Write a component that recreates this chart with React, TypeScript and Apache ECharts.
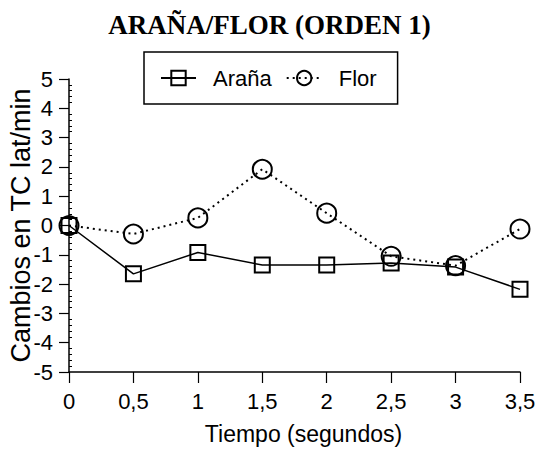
import React, { useEffect, useRef } from "react";
import * as echarts from "echarts";

const times = [0, 0.5, 1, 1.5, 2, 2.5, 3, 3.5];
const arana = [0, -1.65, -0.92, -1.35, -1.35, -1.28, -1.42, -2.18];
const flor = [0, -0.29, 0.26, 1.92, 0.42, -1.05, -1.37, -0.12];
const seriesNames = ["Araña", "Flor"];
const titleText = "ARAÑA/FLOR (ORDEN 1)";
const xName = "Tiempo (segundos)";
const yName = "Cambios en TC lat/min";

const SANS = "'Liberation Sans', Arial, sans-serif";

export default function App() {
  const ref = useRef<HTMLDivElement>(null);
  useEffect(() => {
    if (!ref.current) return;
    const chart = echarts.init(ref.current, null, { renderer: "svg" });
    const yCommon = { type: "value", min: -5, max: 5, interval: 1 };
    chart.setOption({
      animation: false,
      backgroundColor: "#ffffff",
      title: {
        text: titleText,
        left: "center",
        top: 6,
        textStyle: {
          fontFamily: "'Liberation Serif', 'Times New Roman', serif",
          fontWeight: "bold",
          fontSize: 27,
          color: "#000",
        },
      },
      legend: {
        left: 144,
        top: 52,
        padding: [15, 21, 15, 16],
        borderColor: "#000",
        borderWidth: 1.5,
        itemWidth: 35,
        itemHeight: 18,
        itemGap: 14,
        textStyle: { fontFamily: SANS, fontSize: 22, color: "#000", padding: [0, 0, 0, 12] },
        data: seriesNames,
      },
      grid: { left: 69, right: 19, top: 79, bottom: 86, containLabel: false, outerBoundsMode: "none" },
      xAxis: {
        type: "value",
        min: 0,
        max: 3.5,
        interval: 0.5,
        name: xName,
        nameLocation: "middle",
        nameGap: 50,
        nameMoveOverlap: false,
        nameTextStyle: { fontFamily: SANS, fontSize: 23, color: "#000", padding: [0, 0, 0, 18] },
        axisLine: { onZero: false, lineStyle: { color: "#000", width: 1.5 } },
        axisTick: { length: 11, lineStyle: { color: "#000", width: 1.2 } },
        axisLabel: {
          fontFamily: SANS,
          fontSize: 22,
          color: "#000",
          margin: 18,
          formatter: (v: number) => String(v).replace(".", ","),
        },
        splitLine: { show: false },
      },
      yAxis: [
        {
          ...yCommon,
          name: yName,
          nameLocation: "middle",
          nameGap: 35,
          nameMoveOverlap: false,
          nameTextStyle: { fontFamily: SANS, fontSize: 27, color: "#000" },
          axisLine: { show: true, onZero: false, lineStyle: { color: "#000", width: 1.5 } },
          axisTick: { show: true, length: 10, lineStyle: { color: "#000", width: 1.2 } },
          axisLabel: { fontFamily: SANS, fontSize: 22, color: "#000", margin: 16 },
          splitLine: { show: false },
        },
        {
          ...yCommon,
          position: "left",
          axisLine: { show: false, onZero: false },
          axisTick: { show: false, inside: true },
          axisLabel: { show: false },
          minorTick: { show: true, splitNumber: 5, length: 3, lineStyle: { color: "#000", width: 1 } },
          splitLine: { show: false },
        },
      ],
      series: [
        {
          name: seriesNames[0],
          type: "line",
          data: times.map((t, i) => [t, arana[i]]),
          symbol: "rect",
          symbolSize: 15,
          itemStyle: { color: "transparent", borderColor: "#000", borderWidth: 2 },
          lineStyle: { color: "#000", width: 1.5, type: "solid" },
          z: 2,
        },
        {
          name: seriesNames[1],
          type: "line",
          data: times.map((t, i) => [t, flor[i]]),
          symbol: "circle",
          symbolSize: 19,
          itemStyle: { color: "transparent", borderColor: "#000", borderWidth: 2 },
          lineStyle: { color: "#000", width: 2, type: [2, 4] },
          z: 3,
        },
      ],
    });
    return () => chart.dispose();
  }, []);
  return <div ref={ref} style={{ width: 539, height: 458, position: "absolute", left: 0, top: 0 }} />;
}
